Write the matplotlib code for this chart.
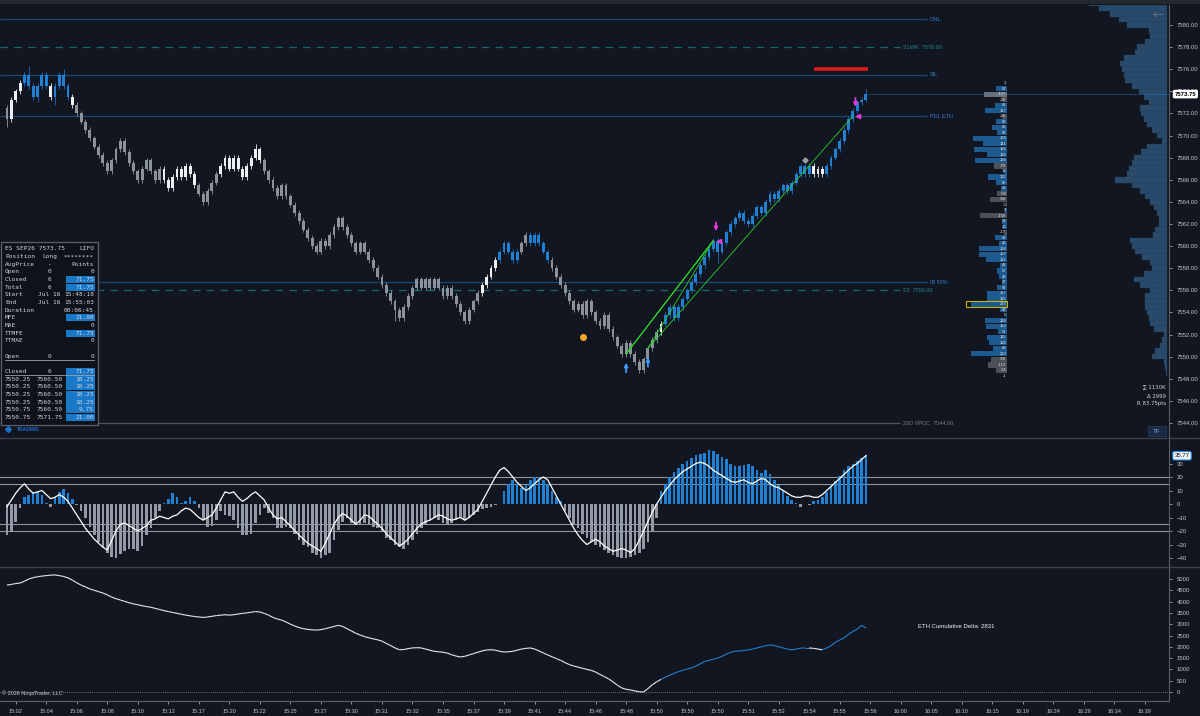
import numpy as np
import matplotlib
matplotlib.use("Agg")
import matplotlib.pyplot as plt
from matplotlib.patches import Rectangle
from matplotlib.collections import LineCollection

plt.rcParams['font.family'] = ['Liberation Sans', 'DejaVu Sans']

# ---------------------------------------------------------------
# DATA
# ---------------------------------------------------------------
first_open = 7572.5
closes = [
    7571.5, 7573.25, 7574.0, 7574.75, 7575.5, 7574.5, 7573.5, 7574.5, 7575.5, 7574.5,
    7573.5, 7574.5, 7575.5, 7574.5, 7573.5, 7572.75, 7572.0, 7571.25, 7570.5, 7569.75,
    7569.0, 7568.25, 7567.5, 7566.75, 7567.75, 7568.75, 7569.5, 7568.5, 7567.5, 7566.75,
    7566.0, 7567.0, 7567.75, 7566.75, 7566.0, 7567.0, 7566.0, 7565.25, 7566.25, 7567.0,
    7566.25, 7567.25, 7566.5, 7565.5, 7564.75, 7564.0, 7565.0, 7565.75, 7566.5, 7567.25,
    7568.0, 7567.0, 7568.0, 7567.0, 7566.25, 7567.25, 7568.0, 7568.75, 7567.75, 7566.75,
    7566.0, 7565.25, 7564.5, 7565.5, 7564.5, 7563.75, 7563.0, 7562.25, 7561.5, 7560.75,
    7560.0, 7559.5, 7560.5, 7560.0, 7561.0, 7561.75, 7562.5, 7561.75, 7561.0, 7560.25,
    7559.5, 7560.25, 7559.5, 7558.75, 7558.0, 7557.25, 7556.5, 7555.75, 7555.0, 7554.25,
    7553.5, 7554.5, 7555.5, 7556.25, 7557.0, 7556.25, 7557.0, 7556.25, 7557.0, 7556.25,
    7555.5, 7556.25, 7555.5, 7554.75, 7554.0, 7553.25, 7554.25, 7555.0, 7555.75, 7556.5,
    7557.25, 7558.0, 7558.75, 7559.5, 7560.25, 7559.5, 7558.75, 7559.5, 7560.25, 7561.0,
    7560.25, 7561.0, 7560.25, 7559.5, 7558.75, 7558.0, 7557.25, 7556.5, 7555.75, 7555.0,
    7554.25, 7554.75, 7553.75, 7555.0, 7554.0, 7553.25, 7552.75, 7553.75, 7552.5, 7551.75,
    7551.0, 7550.25, 7551.25, 7550.25, 7549.5, 7548.75, 7549.75, 7550.75, 7551.5, 7552.25,
    7553.0, 7553.75, 7554.5, 7553.5, 7554.5, 7555.25, 7556.0, 7556.75, 7557.5, 7558.25,
    7559.0, 7559.75, 7560.5, 7559.5, 7560.25, 7561.25, 7562.0, 7562.5, 7563.0, 7562.25,
    7562.0, 7562.75, 7563.5, 7563.0, 7564.0, 7564.75, 7564.25, 7565.0, 7565.5, 7565.0,
    7565.75, 7566.5, 7567.25, 7566.5, 7567.25, 7566.5, 7567.0, 7566.5, 7567.25, 7568.0,
    7568.75, 7569.5, 7570.5, 7571.5, 7572.25, 7573.0, 7573.25, 7573.75,
]
# g = grey, w = white, b = blue candle
candle_color_runs = [('g', 1), ('w', 3), ('b', 6), ('w', 1), ('b', 4), ('w', 1), ('g', 20),
                     ('w', 8), ('g', 5), ('w', 10), ('g', 50), ('w', 4), ('b', 5), ('g', 2),
                     ('b', 5), ('g', 25), ('w', 1), ('b', 34), ('w', 3), ('b', 10)]
# visible long wicks: bar -> (high, low)
long_wicks = {0: (None, 7570.75), 5: (7576.25, None), 7: (None, 7573.0), 11: (None, 7572.75),
              13: (7576.0, None), 57: (7569.25, None), 89: (None, 7553.25), 145: (None, 7548.5),
              163: (None, 7558.5), 197: (7574.25, None)}

hist = [
    -23, -21, -13, -3, 5, 7, 9, 9, 7, 1,
    -2, 5, 9, 11, 8, 4, -1, -5, -10, -17,
    -23, -28, -32, -36, -39, -40, -37, -35, -33, -33,
    -35, -31, -23, -18, -10, -5, 1, 4, 8, 5,
    1, 2, 5, 2, -3, -12, -17, -16, -12, -5,
    -8, -9, -12, -18, -23, -23, -22, -14, -8, -3,
    -7, -10, -18, -18, -17, -18, -22, -27, -30, -32,
    -36, -38, -40, -38, -36, -27, -19, -13, -10, -14,
    -15, -15, -14, -15, -17, -18, -21, -25, -27, -30,
    -32, -33, -30, -27, -22, -18, -15, -12, -10, -12,
    -14, -15, -14, -12, -10, -12, -10, -8, -6, -4,
    -3, -2, -1, 0, 10, 15, 18, 15, 12, 14,
    18, 20, 20, 18, 15, 10, 5, 2, -5, -10,
    -15, -18, -22, -25, -28, -30, -32, -34, -36, -38,
    -39, -40, -40, -39, -38, -36, -33, -28, -20, -10,
    10, 15, 20, 24, 27, 30, 32, 34, 36, 37,
    38, 40, 39, 37, 35, 33, 30, 28, 28, 29,
    30, 28, 25, 23, 25, 22, 18, 14, 10, 6,
    3, 1, -2, 0, -1, 2, 3, 5, 9, 13,
    17, 21, 25, 28, 30, 32, 34, 36,
]
osc = [
    -2, 3, 8, 12, 15, 11, 8, 9, 10, 7,
    4, 5, 7, 5, 2, -3, -8, -13, -18, -22,
    -26, -29, -32, -34, -27, -20, -15, -14, -16, -18,
    -20, -18, -16, -12, -11, -9, -10, -11, -9, -8,
    -5, -3, -4, -7, -10, -12, -10, -8, -3, 3,
    9, 8, 9, 5, 2, 4, 7, 9, 6, 3,
    -3, -8, -11, -10, -13, -16, -20, -23, -26, -29,
    -31, -33, -35, -29, -22, -15, -10, -7, -9, -12,
    -15, -12, -8, -9, -12, -15, -18, -22, -25, -28,
    -31, -29, -26, -22, -18, -15, -13, -12, -10, -8,
    -9, -11, -12, -11, -10, -12, -10, -7, -4, 2,
    8, 14, 20, 25, 27, 24, 20, 16, 13, 10,
    12, 15, 18, 20, 18, 12, 6, 0, -6, -12,
    -18, -23, -27, -30, -28, -26, -28, -31, -33, -35,
    -34, -33, -34, -36, -33, -27, -20, -13, -6, 0,
    5, 10, 14, 18, 21, 24, 26, 28, 30, 31,
    30, 28, 25, 23, 21, 19, 17, 16, 17, 18,
    16, 15, 17, 19, 18, 15, 13, 12, 10, 8,
    6, 5, 5, 6, 6, 5, 5, 7, 10, 13,
    16, 19, 22, 25, 28, 30, 33, 35.77,
]
cum_delta = [
    4730, 4760, 4800, 4820, 4900, 5000, 5060, 5100, 5130, 5150,
    5170, 5180, 5150, 5110, 5050, 4950, 4830, 4730, 4650, 4560,
    4500, 4440, 4380, 4300, 4200, 4130, 4070, 4010, 3950, 3900,
    3860, 3820, 3780, 3750, 3700, 3650, 3600, 3560, 3520, 3480,
    3440, 3400, 3370, 3340, 3320, 3300, 3320, 3350, 3380, 3400,
    3420, 3400, 3420, 3450, 3480, 3500, 3530, 3560, 3540, 3480,
    3400, 3300, 3230, 3180, 3100, 3000, 2920, 2850, 2800, 2770,
    2750, 2740, 2760, 2800, 2850, 2900, 2950, 2900, 2800, 2700,
    2600, 2520, 2450, 2400, 2350, 2310, 2250, 2150, 2050, 1950,
    1870, 1880, 1920, 1950, 1960, 1950, 1900, 1850, 1800, 1780,
    1760, 1720, 1650, 1590, 1550, 1580, 1640, 1700, 1760, 1820,
    1860, 1870, 1850, 1800, 1770, 1780, 1800, 1850, 1900, 1930,
    1950, 1900, 1820, 1730, 1640, 1560, 1480, 1400, 1300, 1210,
    1150, 1100, 1050, 1000, 960, 880, 780, 680, 580, 450,
    300, 180, 120, 90, 50, 10, 0, 150, 320, 450,
    560, 660, 740, 830, 900, 960, 1020, 1060, 1150, 1250,
    1350, 1400, 1450, 1500, 1580, 1680, 1760, 1800, 1820, 1840,
    1860, 1900, 1950, 2000, 2050, 2080, 2060, 2000, 1950, 1900,
    1860, 1900, 1940, 1950, 1950, 1930, 1900, 1870, 1950, 2050,
    2200, 2300, 2400, 2550, 2680, 2780, 2950, 2831,
]

time_labels = ['15:02', '15:04', '15:06', '15:08', '15:10', '15:12', '15:17', '15:20', '15:22',
               '15:25', '15:27', '15:30', '15:31', '15:32', '15:35', '15:37', '15:39', '15:41',
               '15:44', '15:46', '15:48', '15:50', '15:50', '15:50', '15:51', '15:52', '15:54',
               '15:55', '15:56', '16:00', '16:05', '16:10', '16:15', '16:19', '16:24', '16:29',
               '16:34', '16:39']

level_names = ['ONL', 'S1WK  7578.00', 'SIL', 'PDL ETH', 'IB 50%', 'S2  7556.00', '20D VPOC  7544.00']
level_prices = [7580.5, 7578.0, 7575.5, 7571.75, 7556.75, 7556.0, 7544.0]
level_kinds = ['blue', 'teal', 'blue', 'blue', 'blue', 'teal', 'grey']

entry_bars = [142, 142, 142, 142, 147, 147]
entry_prices = [7550.25, 7550.25, 7550.25, 7550.25, 7550.75, 7550.75]
exit_bars = [162, 162, 162, 162, 162, 194]
exit_prices = [7560.50, 7560.50, 7560.50, 7560.50, 7560.50, 7571.75]
last_price = 7573.75
stop_price = 7576.0
stop_bars = (185, 197.5)

profile_top = 7582.0
profile_vol = [78, 68, 57, 48, 40, 18, 17, 22, 30, 32, 43, 47, 45, 43, 42, 35, 28, 23, 18, 27,
               26, 23, 20, 15, 10, 5, 20, 26, 33, 35, 38, 40, 52, 35, 27, 22, 17, 13, 10, 8,
               8, 12, 14, 37, 35, 32, 25, 17, 15, 23, 33, 27, 17, 22, 22, 22, 20, 18, 17, 13,
               3, 5, 7, 12, 15, 3, 2, 1]

ladder_top = 7574.75
ladder_delta = [1, 67, -137, -28, 68, 127, -28, 62, 86, 59,
                198, 141, 192, 118, 186, -79, 16, 112, 65, 36,
                -58, -98, -3, 9, -158, 28, 26, -17, 68, 46,
                166, 167, 121, 43, 57, 46, 27, 58, 117, 115,
                213, 42, 5, 128, 122, 51, 115, 104, 83, 212,
                -96, -113, -65, -1]
ladder_marked = 7554.75

info_rows = [
    ('ES SEP26 7573.75', '', 'LIFO', False),
    ('Position', 'Long', '********', False),
    ('AvgPrice', '-', 'Points', False),
    ('Open', '0', '0', False),
    ('Closed', '6', '71.75', True),
    ('Total', '6', '71.75', True),
    ('Start', 'Jul 16', '15:48:18', False),
    ('End', 'Jul 16', '15:55:03', False),
    ('Duration', '', '00:06:45', False),
    ('MFE', '', '21.00', True),
    ('MAE', '', '0', False),
    ('TTMFE', '', '71.75', True),
    ('TTMAE', '', '0', False),
    ('', '', '', False),
    ('Open', '0', '0', False),
    ('', '', '', False),
    ('Closed', '6', '71.75', True),
    ('7550.25', '7560.50', '10.25', True),
    ('7550.25', '7560.50', '10.25', True),
    ('7550.25', '7560.50', '10.25', True),
    ('7550.25', '7560.50', '10.25', True),
    ('7550.75', '7560.50', '9.75', True),
    ('7550.75', '7571.75', '21.00', True),
]

# ---------------------------------------------------------------
# STYLE / LAYOUT
# ---------------------------------------------------------------
BG = '#121620'
TXT = '#c0c4ca'
BLUE = '#1f80d4'
GREY = '#8b929c'
WHITE = '#eef0f2'
W, H = 1200, 716
PX_PER_BAR = 4.36
X0_PX = 7.0            # pixel of bar 0
AX_RIGHT_PX = 1169


def px_to_bar(px):
    return (px - X0_PX) / PX_PER_BAR


def fig_box(top, bottom):
    return [0, 1 - bottom / H, AX_RIGHT_PX / W, (bottom - top) / H]


fig = plt.figure(figsize=(12, 7.16), dpi=100, facecolor=BG)
ax = fig.add_axes(fig_box(5, 437))
axi = fig.add_axes(fig_box(438, 566), sharex=ax)
axd = fig.add_axes(fig_box(567, 701), sharex=ax)

for a in (ax, axi, axd):
    a.set_facecolor(BG)
    for s in a.spines.values():
        s.set_visible(False)
    a.spines['right'].set_visible(True)
    a.spines['right'].set_color('#5a5f68')
    a.spines['right'].set_linewidth(0.8)
    a.yaxis.tick_right()
    a.tick_params(axis='y', labelsize=4.3, colors=TXT, length=2.5, width=0.5, pad=3)
    a.tick_params(axis='x', bottom=False, labelbottom=False)

ax.set_xlim(px_to_bar(0), px_to_bar(AX_RIGHT_PX))

# ---------------- main price panel ----------------
n = len(closes)
x = np.arange(n)
c = np.array(closes)
o = np.array([first_open] + closes[:-1])
codes = ''.join(k * cnt for k, cnt in candle_color_runs)
body_col = {'g': GREY, 'w': WHITE, 'b': BLUE}
wick_col = {'g': '#7d848e', 'w': '#c9cdd3', 'b': '#1a62a6'}
hi = np.maximum(o, c) + 0.25
lo = np.minimum(o, c) - 0.25
for i, (h, l) in long_wicks.items():
    if h is not None:
        hi[i] = h
    if l is not None:
        lo[i] = l

ax.vlines(x, lo, hi, colors=[wick_col[k] for k in codes], lw=0.7, zorder=3)
ax.bar(x, np.maximum(np.abs(c - o), 0.15), bottom=np.minimum(o, c), width=0.66,
       color=[body_col[k] for k in codes], linewidth=0, zorder=4)

ax.set_ylim(7544 - 14 / 11.056, 7580 + 20 / 11.056)
ax.set_yticks(np.arange(7544, 7581, 2))
ax.set_yticklabels([f'{v:.2f}' for v in np.arange(7544, 7581, 2)])

lvl_style = {
    'blue': dict(color='#1b4873', ls='-', end=px_to_bar(927), tcol='#2d7fd0'),
    'teal': dict(color='#136a6a', ls=(0, (6, 5)), end=px_to_bar(900), tcol='#25888a'),
    'grey': dict(color='#4f545c', ls='-', end=px_to_bar(900), tcol='#7a7f87'),
}
for name, p, kind in zip(level_names, level_prices, level_kinds):
    st = lvl_style[kind]
    ax.hlines(p, px_to_bar(0), st['end'], colors=st['color'], linestyles=st['ls'], lw=0.9, zorder=1)
    ax.text(st['end'] + 0.6, p, name, color=st['tcol'], fontsize=4, va='center', ha='left')

# volume profile on the right edge
prof_prices = profile_top - 0.5 * np.arange(len(profile_vol))
prof_right = px_to_bar(1167)
prof_w = np.array(profile_vol) / PX_PER_BAR
ax.barh(prof_prices, prof_w, left=prof_right - prof_w, height=0.5, color='#2a4a6b',
        edgecolor='#233f5c', linewidth=0.25, zorder=1)

# delta ladder
lad_prices = ladder_top - 0.5 * np.arange(len(ladder_delta))
lad_right = px_to_bar(1007)
lad_w = np.abs(np.array(ladder_delta)) * 0.17 / PX_PER_BAR
lad_col = ['#1d5a90' if v > 0 else '#4b5059' for v in ladder_delta]
lad_col = ['#6b7079' if p == last_price else col for p, col in zip(lad_prices, lad_col)]
ax.barh(lad_prices, lad_w, left=lad_right - lad_w, height=0.46, color=lad_col, linewidth=0, zorder=2)
for p, v in zip(lad_prices, ladder_delta):
    ax.text(lad_right - 0.2, p, str(v), fontsize=2.9, color='#e6e8eb', ha='right', va='center', zorder=3)
ax.add_patch(Rectangle((px_to_bar(966), ladder_marked - 0.25), lad_right - px_to_bar(966), 0.5,
                       fill=False, edgecolor='#c9b400', lw=0.8, zorder=4))

# trades
for eb, ep, xb, xp in zip(entry_bars, entry_prices, exit_bars, exit_prices):
    ax.plot([eb, xb], [ep, xp], color='#2bcf2b', lw=0.6, zorder=5)
for eb, ep in sorted(set(zip(entry_bars, entry_prices))):
    ax.annotate('', xy=(eb, ep - 0.55), xytext=(eb, ep - 1.9),
                arrowprops=dict(arrowstyle='-|>', color='#3d9bff', lw=1.3, mutation_scale=5), zorder=6)
for xb, xp in sorted(set(zip(exit_bars, exit_prices))):
    ax.annotate('', xy=(xb + 0.6, xp + 0.6), xytext=(xb + 0.6, xp + 1.9),
                arrowprops=dict(arrowstyle='-|>', color='#e23be2', lw=1.3, mutation_scale=5), zorder=6)
    ax.plot(xb + 1.2, xp, marker='<', ms=3, color='#e23be2', zorder=6)

ax.plot(132, 7551.75, 'o', ms=4, color='#f5a623', zorder=6)
ax.plot(183, 7567.75, 'D', ms=2.6, color='#9c9c9c', zorder=6)
ax.hlines(stop_price, stop_bars[0], stop_bars[1], colors='#e01818', lw=2.6, zorder=5)
ax.hlines(last_price, n - 0.5, px_to_bar(AX_RIGHT_PX), colors='#2a7fd0',
          linestyles=(0, (1, 1)), lw=0.6, zorder=2)
ax.annotate(f'{last_price:.2f}', xy=(1.0, last_price), xycoords=('axes fraction', 'data'),
            xytext=(4, 0), textcoords='offset points', ha='left', va='center', fontsize=4.3,
            color='black', fontweight='bold',
            bbox=dict(boxstyle='round,pad=0.3', fc='white', ec='none'))

# ---------------- oscillator panel ----------------
hv = np.array(hist)
axi.bar(x, hv, width=0.6, color=[BLUE if v > 0 else '#939aa5' for v in hv], linewidth=0, zorder=2)
for lvl in (20, 15, -15, -20):
    axi.axhline(lvl, color='#8f959d', lw=0.8, zorder=1)
axi.plot(x, osc, color='white', lw=0.9, zorder=3)
axi.set_ylim(-45.9, 48.9)
axi.set_yticks(np.arange(-40, 31, 10))
axi.annotate(f'{osc[-1]:.2f}', xy=(1.0, osc[-1]), xycoords=('axes fraction', 'data'),
             xytext=(4, 0), textcoords='offset points', ha='left', va='center', fontsize=4.3,
             color='#101010', bbox=dict(boxstyle='round,pad=0.3', fc='#eef4fb', ec=BLUE, lw=0.8))

# ---------------- cumulative delta panel ----------------
dv = np.array(cum_delta)
pts = np.column_stack([x, dv]).reshape(-1, 1, 2)
segs = np.concatenate([pts[:-1], pts[1:]], axis=1)
seg_col = [BLUE if codes[i + 1] == 'b' and i > 140 else '#e8eaed' for i in range(n - 1)]
axd.add_collection(LineCollection(segs, colors=seg_col, linewidths=0.8, zorder=3))
axd.axhline(0, color='#8a8f96', ls=(0, (1, 1.5)), lw=0.6, zorder=1)
axd.set_ylim(-398, 5531)
axd.set_yticks(np.arange(0, 5001, 500))
axd.spines['bottom'].set_visible(True)
axd.spines['bottom'].set_color('#5a5f68')
axd.spines['bottom'].set_linewidth(0.8)
tick_bars = 2 + 7 * np.arange(len(time_labels))
axd.set_xticks(tick_bars)
axd.set_xticklabels(time_labels)
axd.tick_params(axis='x', bottom=True, labelbottom=True, labelsize=4.0, colors=TXT,
                length=2.5, width=0.5, pad=3)

# ---------------- overlay (panel chrome, info box, captions) ----------------
ov = fig.add_axes([0, 0, 1, 1], zorder=10)
ov.set_xlim(0, W)
ov.set_ylim(H, 0)
ov.axis('off')
ov.patch.set_alpha(0)

ov.add_patch(Rectangle((0, 0), W, 4, color='#24282f', lw=0))
for yy in (437.5, 566.5):
    ov.plot([0, W], [yy, yy], color='#3b4049', lw=1)

ov.text(1158, 15, '\u2190', color='#656c78', fontsize=9, ha='center', va='center', family='DejaVu Sans')
ov.text(1166, 388, '\u2211 1130K', color='#d0d3d8', fontsize=3.9, ha='right', va='center', family='DejaVu Sans')
ov.text(1166, 396, '\u0394 2999', color='#d0d3d8', fontsize=3.9, ha='right', va='center', family='DejaVu Sans')
ov.text(1166, 404, 'R 83.75pts', color='#d0d3d8', fontsize=3.9, ha='right', va='center', family='DejaVu Sans')
ov.add_patch(Rectangle((1148, 426), 18, 10, fc='#1b2a45', ec='#2b3d60', lw=0.5))
ov.text(1157, 431.2, 'TF', color='#86a4d6', fontsize=4.5, ha='center', va='center')
ov.text(918, 627, 'ETH Cumulative Delta: 2831', color='#f0f2f4', fontsize=4.3, ha='left', va='center')
ov.text(2, 693, '\u00a9 2026 NinjaTrader, LLC', color='#c8ccd2', fontsize=4.0, ha='left', va='center')

# trade performance box
ov.add_patch(Rectangle((1, 242), 97, 183, fc='#0e1219', ec='#5c6169', lw=0.9))
row_y0, row_dy = 249, 7.65
for r, (left, mid, right, hl) in enumerate(info_rows):
    yy = row_y0 + r * row_dy
    if hl:
        ov.add_patch(Rectangle((66, yy - 3.6), 28.5, 7.2, fc='#1a78c8', lw=0))
    kw = dict(fontsize=4.4, color='#d3d7dc', va='center', family='DejaVu Sans Mono')
    ov.text(5, yy, left, ha='left', **kw)
    ov.text(49.5, yy, mid, ha='center', **kw)
    ov.text(94, yy, right, ha='right', **kw)
for yy in (359.5, 375.0):
    ov.plot([5, 94], [yy, yy], color='#9aa0a8', lw=0.6)
ov.plot(8, 429, marker='D', ms=3, color='#1f6fd0')
ov.text(17, 429.5, 'TRADING', color='#1f6fd0', fontsize=3.6, fontweight='bold', va='center')

fig.savefig('out.png', dpi=100, facecolor=BG)
